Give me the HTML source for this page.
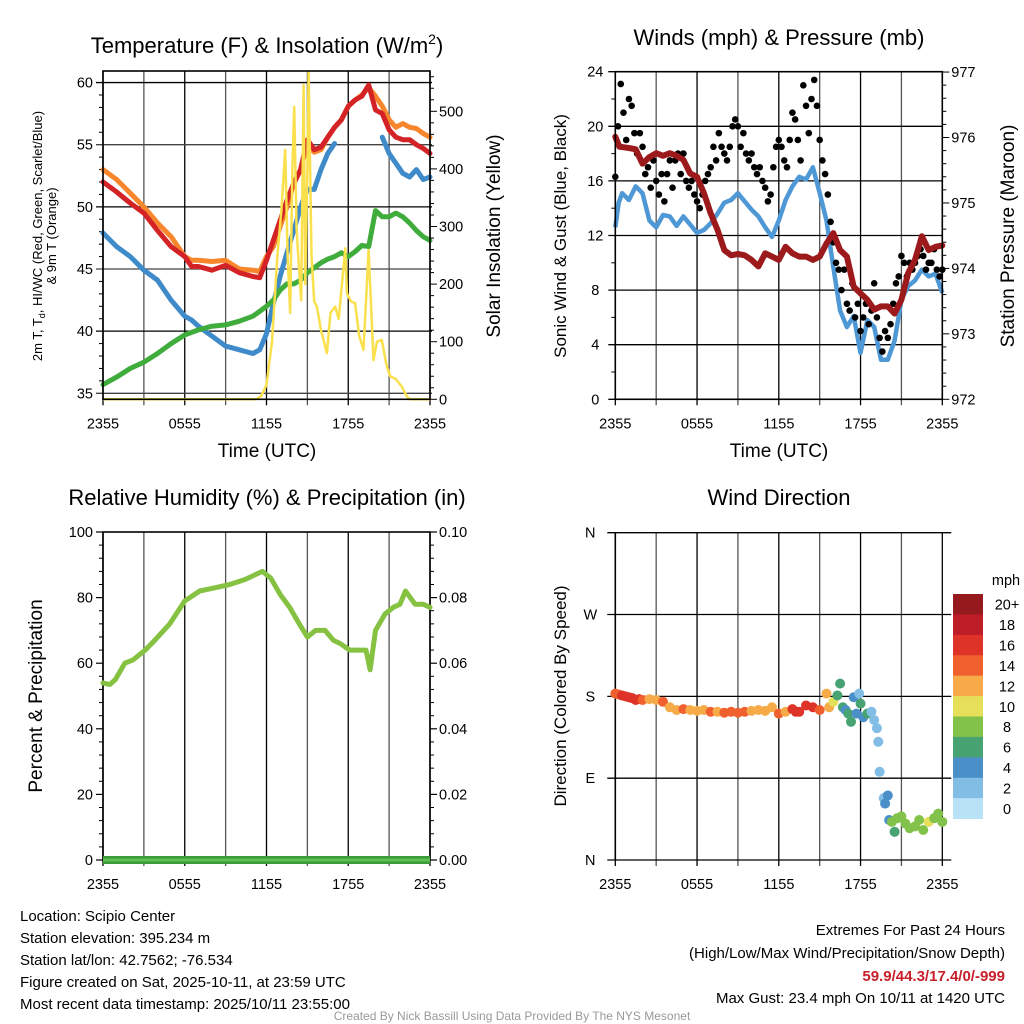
<!DOCTYPE html>
<html><head><meta charset="utf-8">
<style>
html,body{margin:0;padding:0;background:#fff;}
svg{display:block;font-family:"Liberation Sans",Arial,sans-serif;}
</style></head>
<body>
<svg id="c" width="1024" height="1024" viewBox="0 0 1024 1024" xmlns="http://www.w3.org/2000/svg">
<rect width="1024" height="1024" fill="#fff"/>
<g id="g1"></g>
<g id="g2"></g>
<g id="g3"></g>
<g id="g4"></g>

<text x="267" y="53" font-size="22" text-anchor="middle">Temperature (F) &amp; Insolation (W/m<tspan dy="-9" font-size="14">2</tspan><tspan dy="9">)</tspan></text>
<text x="779" y="45" font-size="22" text-anchor="middle">Winds (mph) &amp; Pressure (mb)</text>
<text x="267" y="505" font-size="22" text-anchor="middle">Relative Humidity (%) &amp; Precipitation (in)</text>
<text x="779" y="505" font-size="22" text-anchor="middle">Wind Direction</text>

<text x="267" y="457" font-size="19" text-anchor="middle">Time (UTC)</text>
<text x="779" y="457" font-size="19" text-anchor="middle">Time (UTC)</text>

<text transform="translate(42,236) rotate(-90)" font-size="13" text-anchor="middle">2m T, T<tspan dy="3" font-size="9">d</tspan><tspan dy="-3">, HI/WC (Red, Green, Scarlet/Blue)</tspan></text>
<text transform="translate(56,236) rotate(-90)" font-size="13" text-anchor="middle">&amp; 9m T (Orange)</text>
<text transform="translate(500,236) rotate(-90)" font-size="19" text-anchor="middle">Solar Insolation (Yellow)</text>
<text transform="translate(566,236) rotate(-90)" font-size="17" text-anchor="middle">Sonic Wind &amp; Gust (Blue, Black)</text>
<text transform="translate(1014,236) rotate(-90)" font-size="19" text-anchor="middle">Station Pressure (Maroon)</text>
<text transform="translate(42,696) rotate(-90)" font-size="19" text-anchor="middle">Percent &amp; Precipitation</text>
<text transform="translate(566,696) rotate(-90)" font-size="17" text-anchor="middle">Direction (Colored By Speed)</text>

<g font-size="15">
<text x="20" y="921">Location: Scipio Center</text>
<text x="20" y="943">Station elevation: 395.234 m</text>
<text x="20" y="965">Station lat/lon: 42.7562; -76.534</text>
<text x="20" y="981" dy="6">Figure created on Sat, 2025-10-11, at 23:59 UTC</text>
<text x="20" y="1003" dy="6">Most recent data timestamp: 2025/10/11 23:55:00</text>
</g>
<g font-size="15" text-anchor="end">
<text x="1005" y="935">Extremes For Past 24 Hours</text>
<text x="1005" y="958">(High/Low/Max Wind/Precipitation/Snow Depth)</text>
<text x="1005" y="981" fill="#c8202a" font-weight="bold">59.9/44.3/17.4/0/-999</text>
<text x="1005" y="1003">Max Gust: 23.4 mph On 10/11 at 1420 UTC</text>
</g>
<text x="512" y="1020" font-size="12" fill="#999" text-anchor="middle">Created By Nick Bassill Using Data Provided By The NYS Mesonet</text>
</svg>

<script>
// ---------- data ----------
const xTickLabels = ["2355","0555","1155","1755","2355"];
const tHours = [0,1,2,3,4,5,6,6.5,7,8,9,10,11,11.5,12,12.5,13,13.5,14,14.5,15,15.5,16,16.5,17,17.5,18,18.5,19,19.5,20,20.5,21,21.5,22,22.5,23,23.5,24];
const tempRed = [52.0,51.2,50.3,49.5,48.1,46.8,46.0,45.2,45.2,44.9,45.3,44.7,44.4,44.3,45.7,47.3,48.9,50.5,51.9,53.0,55.4,54.6,54.8,55.6,56.4,57.0,58.1,58.6,58.9,59.8,57.8,57.5,56.2,55.6,55.4,55.4,55.0,54.7,54.3];
const tempOrange = [53.0,52.2,51.1,50.0,48.7,47.6,46.0,45.7,45.7,45.6,45.7,45.0,44.9,44.8,46.0,46.8,48.4,50.0,51.9,53.0,55.1,54.4,54.6,55.6,56.4,57.0,58.1,58.6,59.0,59.6,58.9,58.1,57.0,56.4,56.7,56.4,56.3,55.9,55.6];
const tempBlue = [47.9,46.8,46.0,44.9,44.1,42.5,41.2,40.9,40.4,39.6,38.8,38.5,38.2,38.5,39.8,42.2,44.4,46.3,48.1,50.0,51.4,51.4,53.0,54.3,55.1,null,null,null,null,null,null,55.6,54.3,53.5,52.7,52.4,53.0,52.2,52.4];
const tempGreen = [35.7,36.3,37.0,37.5,38.2,39.0,39.7,39.9,40.1,40.4,40.5,40.8,41.2,41.6,42.0,42.5,43.3,43.8,43.8,44.1,44.7,45.1,45.5,45.8,46.0,46.3,46.0,46.4,46.9,46.8,49.7,49.2,49.2,49.5,49.2,48.7,48.1,47.6,47.3];
const solarHours = [0,11.2,11.6,12,12.4,12.8,13.1,13.37,13.55,13.74,13.9,14.03,14.2,14.35,14.55,14.72,14.84,15.0,15.09,15.3,15.5,15.7,16.0,16.43,16.7,17.04,17.3,17.78,17.9,18.2,18.5,18.8,19.12,19.49,19.85,20.1,20.46,20.8,21.08,21.5,21.93,22.3,22.54,24];
const solarValues = [0,0,5,25,100,250,330,433,250,150,400,508,300,240,172,546,200,400,569,250,170,161,120,80,150,161,140,262,184,170,167,110,86,259,68,100,103,60,40,35,22,5,0,0];
const tempTicks = [35,40,45,50,55,60];
const solarTicks = [0,100,200,300,400,500];

const windHours = [0,0.25,0.5,1,1.5,2,2.5,3,3.5,4,4.5,5,5.5,6,6.5,7,7.5,8,8.5,9,9.5,10,10.5,11,11.5,12,12.5,13,13.5,14,14.5,15,15.5,16,16.5,17,17.5,18,18.5,19,19.5,20,20.5,21,21.5,22,22.5,23,23.5,24];
const windSpeed = [12.6,14.4,15.1,14.6,15.6,15.1,13.1,12.6,13.5,13.4,12.7,13.4,12.8,12.2,12.4,12.9,13.6,14.4,14.6,15.1,14.5,13.9,13.4,12.6,11.9,13.1,14.6,15.6,16.3,16.1,17.0,15.1,13.1,9.7,6.5,5.3,6.1,3.4,5.8,5.3,2.9,2.9,4.3,7.3,8.3,8.7,9.5,9.0,9.2,7.8];
const pressHours = [0,0.3,1,1.5,2,2.5,3,3.5,4,4.5,5,5.5,6,6.5,7,7.5,8,8.5,9,9.5,10,10.5,11,11.5,12,12.5,13,13.5,14,14.5,15,15.5,16,16.5,17,17.5,18,18.5,19,19.5,20,20.5,21,21.5,22,22.5,23,23.5,24];
const pressure = [976.01,975.86,975.84,975.82,975.6,975.7,975.76,975.72,975.76,975.72,975.66,975.45,975.4,975.15,974.84,974.59,974.28,974.2,974.22,974.2,974.13,974.03,974.23,974.18,974.13,974.33,974.23,974.18,974.18,974.13,974.18,974.38,974.54,974.28,974.18,973.72,973.62,973.52,973.37,973.42,973.42,973.31,973.52,973.93,974.13,974.49,974.28,974.33,974.35];
const gustHours = [0,0.2,0.4,0.6,0.8,1.0,1.2,1.4,1.6,1.8,2.0,2.2,2.4,2.6,2.8,3.0,3.2,3.4,3.6,3.8,4.0,4.2,4.4,4.6,4.8,5.0,5.2,5.4,5.6,5.8,6.0,6.2,6.4,6.6,6.8,7.0,7.2,7.4,7.6,7.8,8.0,8.2,8.4,8.6,8.8,9.0,9.2,9.4,9.6,9.8,10.0,10.2,10.4,10.6,10.8,11.0,11.2,11.4,11.6,11.8,12.0,12.2,12.4,12.6,12.8,13.0,13.2,13.4,13.6,13.8,14.0,14.2,14.4,14.6,14.8,15.0,15.2,15.4,15.6,15.8,16.0,16.2,16.4,16.6,16.8,17.0,17.2,17.4,17.6,17.8,18.0,18.2,18.4,18.6,18.8,19.0,19.2,19.4,19.6,19.8,20.0,20.2,20.4,20.6,20.8,21.0,21.2,21.4,21.6,21.8,22.0,22.2,22.4,22.6,22.8,23.0,23.2,23.4,23.6,23.8,24.0];
const gustSpeed = [16.3,20,23.1,21,19,22,21.5,19.5,18,19.5,18.5,16.5,17,15.5,17.5,16,15,16.5,14.5,16.5,17.5,15.5,17.5,18,16.5,18,16,15.5,16,15,14.5,14,15,16,16.5,17,18.5,17.5,19.5,18.5,18,17.5,18.5,20,20.5,20,18.5,19.5,18,17.5,18,17,16.5,17,16,15.5,14.5,15,17,18.5,19,18.5,17.5,17,19,21,20.5,19,17.5,23,21.5,19.5,22,23.4,21.5,19,17.5,16.5,15,13,11.5,10,9.5,8,9.5,7,6.5,8.5,6,7,5,6,7,5.5,6.5,8.5,6,4.5,3.5,5,4.5,5.5,7,8.5,9,10.5,10,9,10,9.5,10,10.5,11,10.5,9.5,10,10,11,9.5,9,9.5];
const windTicks = [0,4,8,12,16,20,24];
const pressTicks = [972,973,974,975,976,977];

const rhHours = [0,0.5,0.9,1.6,2.2,3.1,3.8,4.9,6,7.1,8.2,9.3,10.4,11.7,12.3,13,13.7,14.4,15,15.6,16.3,16.9,17.4,18.1,18.7,19.3,19.6,20,20.7,21.3,21.8,22.2,22.9,23.5,24];
const rhValues = [54,53.5,55,60,61,64,67,72,79,82,83,84,85.5,88,86,81,77,72,68,70,70,67,66,64,64,64,58,70,75,77,78,82,78,78,77];
const precipHours = [0,24];
const precipValues = [0,0];
const rhTicks = [0,20,40,60,80,100];
const precipTicks = ["0.00","0.02","0.04","0.06","0.08","0.10"];

const dirHours = [0,0.25,0.5,0.75,1,1.25,1.5,1.75,2,2.5,3,3.5,4,4.5,5,5.5,6,6.5,7,7.5,8,8.5,9,9.5,10,10.5,11,11.5,12,12.5,13,13.25,13.5,14,14.5,15,15.5,15.7,16,16.3,16.5,16.7,16.9,17.1,17.3,17.5,17.7,17.9,18.0,18.2,18.5,18.8,19.0,19.2,19.3,19.4,19.7,19.8,20.0,20.1,20.3,20.5,20.7,21.0,21.3,21.6,22.0,22.3,22.6,23.0,23.4,23.7,24.0];
const dirDegrees = [183,182,181,180,179,178,176,177,176,177,176,174,168,165,166,165,164,165,163,163,162,163,162,163,164,165,164,168,161,163,166,163,163,170,168,165,183,168,174,181,194,168,165,161,152,179,161,183,172,157,161,163,154,145,130,97,68,62,71,44,42,31,46,48,40,35,37,44,33,42,46,51,42];
const dirSpeed = [14,15,16,16,17,17,17,16,14,12,13,14,12,13,14,12,12,13,14,13,14,14,14,14,13,13,12,12,14,13,16,17,17,17,16,14,12,12,10,6,6,6,4,6,6,4,4,2,6,4,6,2,2,2,2,2,2,4,4,4,8,6,8,8,8,8,8,8,8,10,8,8,8];
const dirTickLabels = ["N","E","S","W","N"];
const speedBinLabels = ["0","2","4","6","8","10","12","14","16","18","20+"];
const speedBinColors = ["#b9e2f6","#82bde6","#4a8fc8","#47a472","#82c24b","#e6df5a","#f6ab48","#f0602f","#de3329","#bd1d26","#941a1d"];

// ---------- helpers ----------
const NS = "http://www.w3.org/2000/svg";
function mk(parent, tag, attrs){
  const e = document.createElementNS(NS, tag);
  for (const k in attrs) e.setAttribute(k, attrs[k]);
  parent.appendChild(e);
  return e;
}
const X0 = 103, X1 = 430, XB0 = 615.3, XB1 = 942.3;
function xA(h){ return X0 + h*(X1-X0)/24; }
function xB(h){ return XB0 + h*(XB1-XB0)/24; }
function yTemp(v){ return 393.3 - (v-35)*12.43; }
function ySolar(w){ return 399.3 - w*0.576; }
function yWind(m){ return 399.3 - m*(327.6/24); }
function yPress(p){ return 399.3 - (p-972)*65.45; }
function yRH(v){ return 860 - v*3.28; }
function yPrecip(v){ return 860 - v*3280; }
function yDir(d){ return 860 - d*(327.3/360); }

function pathFrom(hs, vs, fx, fy){
  let d = "", pen = false;
  for (let i=0;i<hs.length;i++){
    if (vs[i]===null){ pen=false; continue; }
    d += (pen?"L":"M") + fx(hs[i]).toFixed(1) + "," + fy(vs[i]).toFixed(1);
    pen = true;
  }
  return d;
}
function frame(g, x0, x1, y0, y1){
  const r = mk(g,"rect",{x:x0,y:y0,width:x1-x0,height:y1-y0,fill:"none",stroke:"#000","stroke-width":1.6});
  
  
}
function vgrid(g, fx, y0, y1){
  for (let k=0;k<=8;k++){
    const x = fx(k*3);
    const l = mk(g,"line",{x1:x,x2:x,y1:y0,y2:y1+6,stroke:k%2?"#555":"#000","stroke-width":1.3});
    
    
  }
  for (let k=0;k<xTickLabels.length;k++){
    const t = mk(g,"text",{x:fx(k*6),y:y1+29,"font-size":14.5,"text-anchor":"middle"});
    t.textContent = xTickLabels[k];
    
    
  }
}

// ---------- panel 1 ----------
(function(){
  const g = document.getElementById("g1");
  const T = 71, B = 399.3;
  vgrid(g, xA, T, B);
  tempTicks.forEach(v=>{
    const y = yTemp(v);
    const l = mk(g,"line",{x1:X0-7,x2:X1+2,y1:y,y2:y,stroke:v%10?"#444":"#000","stroke-width":1.3});
    
    
    const t = mk(g,"text",{x:X0-10,y:y+5,"font-size":14.5,"text-anchor":"end"});
    t.textContent = v;
    
    
  });
  for (let v=35; v<=60; v++){ if (v%5) mk(g,"line",{x1:X0-4,x2:X0,y1:yTemp(v),y2:yTemp(v),stroke:"#000","stroke-width":1}); }
  for (let w=0; w<=560; w+=20){ const y=ySolar(w); mk(g,"line",{x1:X1,x2:X1+(w%100?4:7),y1:y,y2:y,stroke:"#000","stroke-width":1}); }
  solarTicks.forEach(w=>{
    const t = mk(g,"text",{x:X1+9,y:ySolar(w)+5,"font-size":14.5});
    t.textContent = w;
    
    
  });
  const series = [
    [tempOrange,"#f7862c","temp-9m-line"],
    [tempRed,"#d42326","temp-2m-line"],
    [tempBlue,"#3f8bc9","heat-index-wind-chill-line"],
    [tempGreen,"#3fac3c","dewpoint-line"]
  ];
  series.forEach(s=>{
    const p = mk(g,"path",{d:pathFrom(tHours,s[0],xA,yTemp),fill:"none",stroke:s[1],"stroke-width":5,"stroke-linejoin":"round","stroke-linecap":"round"});
    
    
  });
  const sp = mk(g,"path",{d:pathFrom(solarHours,solarValues,xA,ySolar),fill:"none",stroke:"#f9e04c","stroke-width":2.5,"stroke-linejoin":"round"});
  
  
  frame(g, X0, X1, T, B);
})();

// ---------- panel 2 ----------
(function(){
  const g = document.getElementById("g2");
  const T = 71.7, B = 399.3;
  vgrid(g, xB, T, B);
  windTicks.forEach(v=>{
    const y = yWind(v);
    const l = mk(g,"line",{x1:XB0-7,x2:XB1,y1:y,y2:y,stroke:"#000","stroke-width":1.3});
    
    
    const t = mk(g,"text",{x:XB0-20,y:y+5,"font-size":14.5,"text-anchor":"middle"});
    t.textContent = v;
    
    
  });
  for (let v=0; v<=24; v+=2){ if (v%4) mk(g,"line",{x1:XB0-4,x2:XB0,y1:yWind(v),y2:yWind(v),stroke:"#000"}); }
  for (let p=972; p<=977.001; p+=0.2){ const y=yPress(p); mk(g,"line",{x1:XB1,x2:XB1+(Math.abs(p-Math.round(p))<0.01?7:4),y1:y,y2:y,stroke:"#000"}); }
  pressTicks.forEach(p=>{
    const t = mk(g,"text",{x:XB1+9,y:yPress(p)+5,"font-size":14.5});
    t.textContent = p;
    
    
  });
  const wp = mk(g,"path",{d:pathFrom(windHours,windSpeed,xB,yWind),fill:"none",stroke:"#4f98d6","stroke-width":4.5,"stroke-linejoin":"round"});
  
  
  for (let i=0;i<gustHours.length;i++){
    const c = mk(g,"circle",{cx:xB(gustHours[i]),cy:yWind(gustSpeed[i]),r:3.3,fill:"#000"});
    
    
  }
  const pp = mk(g,"path",{d:pathFrom(pressHours,pressure,xB,yPress),fill:"none",stroke:"#9c1a1c","stroke-width":6,"stroke-linejoin":"round","stroke-linecap":"round"});
  
  
  frame(g, XB0, XB1, T, B);
})();

// ---------- panel 3 ----------
(function(){
  const g = document.getElementById("g3");
  const T = 532, B = 860;
  vgrid(g, xA, T, B);
  rhTicks.forEach((v,i)=>{
    const y = yRH(v);
    mk(g,"line",{x1:X0-7,x2:X0,y1:y,y2:y,stroke:"#000","stroke-width":1.2});
    mk(g,"line",{x1:X1,x2:X1+7,y1:y,y2:y,stroke:"#000","stroke-width":1.2});
    const t = mk(g,"text",{x:X0-10,y:y+5,"font-size":14.5,"text-anchor":"end"});
    t.textContent = v;
    
    
    const t2 = mk(g,"text",{x:X1+9,y:y+5,"font-size":14.5});
    t2.textContent = precipTicks[i];
    
    
  });
  for (let v=0; v<=100; v+=4){ if (v%20){ mk(g,"line",{x1:X0-4,x2:X0,y1:yRH(v),y2:yRH(v),stroke:"#000"}); mk(g,"line",{x1:X1,x2:X1+4,y1:yRH(v),y2:yRH(v),stroke:"#000"}); } }
  frame(g, X0, X1, T, B);
  const pr = mk(g,"path",{d:pathFrom(precipHours,precipValues,xA,yPrecip),fill:"none",stroke:"#3b9a3a","stroke-width":8});
  
  
  const pr2 = mk(g,"path",{d:pathFrom(precipHours,precipValues,xA,yPrecip),fill:"none",stroke:"#5cc04f","stroke-width":3});
  
  
  const rh = mk(g,"path",{d:pathFrom(rhHours,rhValues,xA,yRH),fill:"none",stroke:"#85c242","stroke-width":5,"stroke-linejoin":"round","stroke-linecap":"round"});
  
  
})();

// ---------- panel 4 ----------
(function(){
  const g = document.getElementById("g4");
  const T = 532.7, B = 860;
  vgrid(g, xB, T, B);
  dirTickLabels.forEach((lab,i)=>{
    const y = yDir(i*90);
    const l = mk(g,"line",{x1:XB0-8,x2:XB1+9,y1:y,y2:y,stroke:"#000","stroke-width":1.3});
    
    
    const t = mk(g,"text",{x:XB0-25,y:y+5,"font-size":14.5,"text-anchor":"middle"});
    t.textContent = lab;
    
    
  });
  mk(g,"line",{x1:XB0,x2:XB0,y1:T,y2:B,stroke:"#000","stroke-width":1.6});
  for (let i=0;i<dirHours.length;i++){
    const bin = Math.min(10, Math.floor(dirSpeed[i]/2));
    const c = mk(g,"circle",{cx:xB(dirHours[i]),cy:yDir(dirDegrees[i]),r:5,fill:speedBinColors[bin]});
    
    
  }
  const cbTop = 594, cbH = 224.6/11;
  const mt = mk(g,"text",{x:1006,y:585,"font-size":14.5,"text-anchor":"middle"});
  mt.textContent = "mph";
  
  
  for (let k=0;k<11;k++){
    const idx = 10-k;
    const r = mk(g,"rect",{x:953,y:cbTop+k*cbH,width:30,height:cbH+0.4,fill:speedBinColors[idx]});
    
    
    const t = mk(g,"text",{x:1007,y:cbTop+k*cbH+cbH/2+5.5,"font-size":14.5,"text-anchor":"middle"});
    t.textContent = speedBinLabels[idx];
    
    
  }
})();
</script>
</body></html>
